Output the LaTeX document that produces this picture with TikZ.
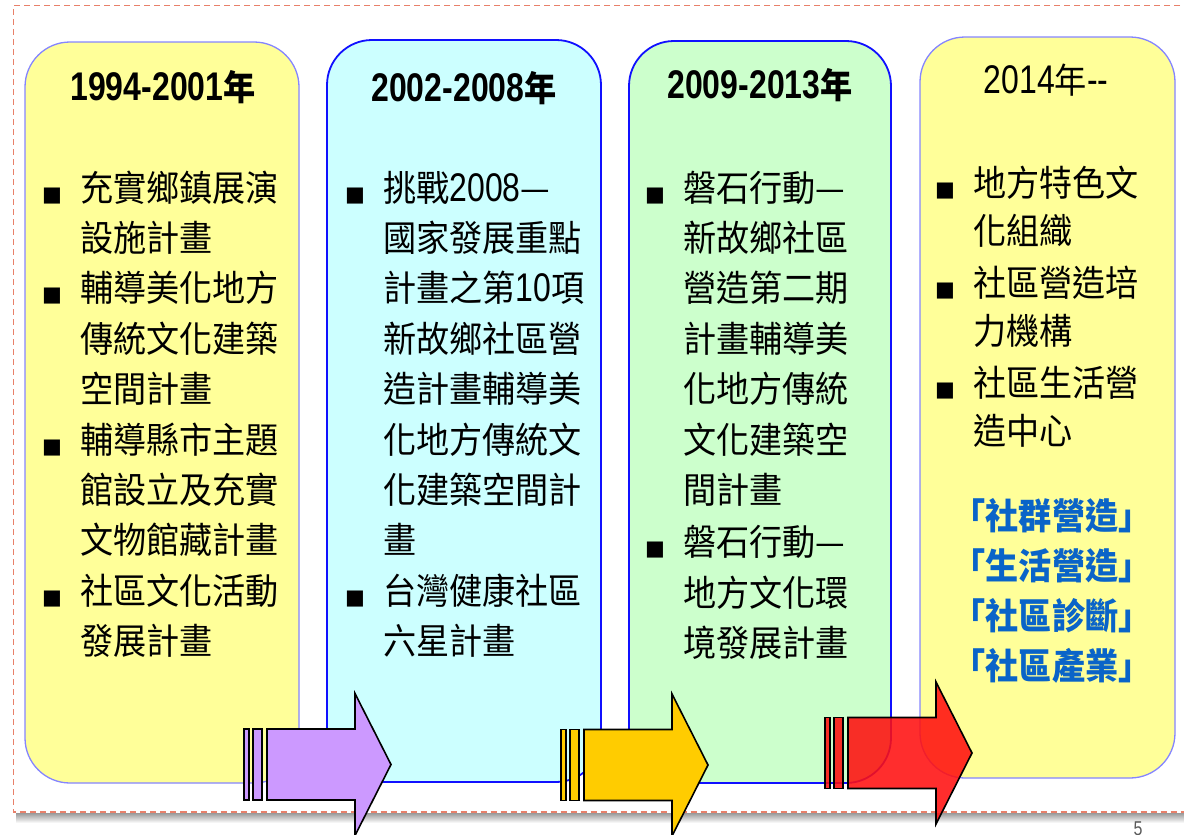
\documentclass[tikz,border=0pt]{standalone}
\usepackage{fontspec}
\setmainfont{Noto Sans CJK TC}
\newfontfamily\cjk[FakeStretch=0.92]{Noto Sans CJK TC}
\newfontfamily\lat[FakeStretch=0.8]{Liberation Sans}
\newfontfamily\bulfont{DejaVu Sans}
\definecolor{yel}{HTML}{FFFF99}
\definecolor{cyn}{HTML}{CCFFFF}
\definecolor{grn}{HTML}{CCFFCC}
\definecolor{lightblue}{HTML}{8585FF}
\definecolor{strongblue}{HTML}{1010FF}
\definecolor{purp}{HTML}{CC99FF}
\definecolor{orng}{HTML}{FFCC00}
\definecolor{redc}{HTML}{FF1010}
\definecolor{framec}{HTML}{E8806A}
\definecolor{bluetxt}{HTML}{0A64C8}
\newcommand{\bul}{\makebox[38pt][l]{\bulfont\fontsize{21}{21}\selectfont ■}}
\newcommand{\dg}[1]{{\fontsize{40}{40}\selectfont\lat #1}}
\newcommand{\phasearrow}[3]{%
  \begin{scope}[shift={(#1,#2)}]
    \draw[arrowline,#3] (0,-35.5) rectangle (5,35.5);
    \draw[arrowline,#3] (9,-35.5) rectangle (18,35.5);
    \draw[arrowline,#3] (23,-35.5) -- (111,-35.5) -- (111,-71) -- (147,0)
      -- (111,71) -- (111,35.5) -- (23,35.5) -- cycle;
  \end{scope}}
\begin{document}
\begin{tikzpicture}[x=1pt,y=-1pt,
  boxst/.style={rounded corners=45pt, inner sep=0pt, outer sep=0pt},
  arrowline/.style={draw=black, line width=1.6pt, line join=miter},
  titletxt/.style={anchor=base, inner sep=0pt, font=\fontsize{40}{40}\selectfont},
  bodytxt/.style={anchor=base west, inner sep=0pt, font=\fontsize{36}{50.4}\selectfont\cjk},
  bluestyle/.style={anchor=base, inner sep=0pt, align=center, text=bluetxt,
    font=\fontsize{36}{50}\selectfont\cjk\bfseries}]
\useasboundingbox (0,0) rectangle (1184,835);
% outer frame with shadow
\shade[top color=black!40, bottom color=white] (16,813) rectangle (1200,823);
\draw[framec, line width=1.2pt, dash pattern=on 6pt off 4pt]
  (1200,5.5) -- (13.5,5.5) -- (13.5,812) -- (1200,812);
% boxes
\node[boxst, fill=yel, draw=lightblue, line width=1.3pt, minimum width=274pt, minimum height=741pt] (box1) at (162,412.5) {};
\node[boxst, fill=cyn, draw=strongblue, line width=1.8pt, minimum width=274pt, minimum height=742pt] (box2) at (464,411) {};
\node[boxst, fill=grn, draw=strongblue, line width=1.8pt, minimum width=262pt, minimum height=742pt] (box3) at (760,412) {};
\node[boxst, fill=yel, draw=lightblue, line width=1.3pt, minimum width=255pt, minimum height=741pt] (box4) at (1047.5,407.5) {};
% titles
\node[titletxt] (t1) at (163,100) {\lat\bfseries 1994-2001{\fontsize{35}{35}\selectfont\cjk\bfseries 年}};
\node[titletxt] (t2) at (464,101) {\lat\bfseries 2002-2008{\fontsize{35}{35}\selectfont\cjk\bfseries 年}};
\node[titletxt] (t3) at (760,98) {\lat\bfseries 2009-2013{\fontsize{35}{35}\selectfont\cjk\bfseries 年}};
\node[titletxt] (t4) at (1046,93) {\lat 2014{\fontsize{35}{35}\selectfont\cjk 年}--};
% box 1 list
\node[bodytxt] (l1) at (42,201) {\begin{tabular}[t]{@{}l@{}l@{}}
\bul & 充實鄉鎮展演\\
 & 設施計畫\\
\bul & 輔導美化地方\\
 & 傳統文化建築\\
 & 空間計畫\\
\bul & 輔導縣市主題\\
 & 館設立及充實\\
 & 文物館藏計畫\\
\bul & 社區文化活動\\
 & 發展計畫
\end{tabular}};
% box 2 list
\node[bodytxt] (l2) at (345,201) {\begin{tabular}[t]{@{}l@{}l@{}}
\bul & 挑戰\dg{2008}—\\
 & 國家發展重點\\
 & 計畫之第\dg{10}項\\
 & 新故鄉社區營\\
 & 造計畫輔導美\\
 & 化地方傳統文\\
 & 化建築空間計\\
 & 畫\\
\bul & 台灣健康社區\\
 & 六星計畫
\end{tabular}};
% box 3 list
\node[bodytxt] (l3) at (645,201) {\begin{tabular}[t]{@{}l@{}l@{}}
\bul & 磐石行動—\\
 & 新故鄉社區\\
 & 營造第二期\\
 & 計畫輔導美\\
 & 化地方傳統\\
 & 文化建築空\\
 & 間計畫\\[2pt]
\bul & 磐石行動—\\
 & 地方文化環\\
 & 境發展計畫
\end{tabular}};
% box 4 list
\node[bodytxt, font=\fontsize{36}{48}\selectfont\cjk] (l4) at (935,196) {\begin{tabular}[t]{@{}l@{}l@{}}
\bul & 地方特色文\\
 & 化組織\\[4pt]
\bul & 社區營造培\\
 & 力機構\\[4pt]
\bul & 社區生活營\\
 & 造中心
\end{tabular}};
\node[bluestyle] (blue) at (1052,679) {「社群營造」\\「生活營造」\\「社區診斷」\\「社區產業」};
% arrows
\phasearrow{244}{764.5}{fill=purp}
\phasearrow{561}{765}{fill=orng}
\phasearrow{825}{753}{fill=redc, fill opacity=0.88}
% page number
\node[anchor=north, inner sep=0pt, text=black!65, font=\fontsize{20}{20}\selectfont\lat] (pg) at (1138,822) {5};
\end{tikzpicture}
\end{document}
